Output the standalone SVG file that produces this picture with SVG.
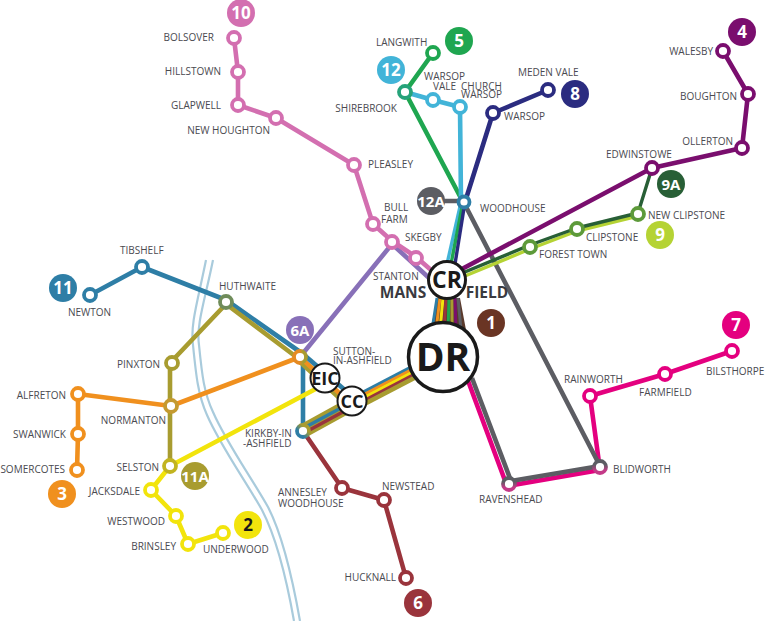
<svg xmlns="http://www.w3.org/2000/svg" width="765" height="621" viewBox="0 0 765 621">
<style>
.l{fill:none;stroke-width:4.6;stroke-linejoin:round;stroke-linecap:butt}
.w{stroke-width:3.4}
.r{fill:none;stroke:#a9cbdc;stroke-width:2.2}
.s{fill:#fff;stroke-width:3.8}
.t{font-family:"Open Sans",sans-serif;font-size:10px;fill:#4a4a50}
.te{text-anchor:end}
.b{font-family:"Open Sans",sans-serif;font-size:17px;font-weight:700;fill:#fff;text-anchor:middle}
.c{font-size:15px}
.h{font-family:"Open Sans",sans-serif;font-weight:700;fill:#1a1a1a;text-anchor:middle}
.m{font-family:"Open Sans",sans-serif;font-size:15.5px;font-weight:700;fill:#3a3a40;text-anchor:middle}
.hub{fill:#fff;stroke:#1a1a1a}
</style>
<defs>
<linearGradient id="gs" x1="0" x2="1" y1="0" y2="0"><stop offset="0.45" stop-color="#e58a22"/><stop offset="0.75" stop-color="#a89c30"/></linearGradient>
<linearGradient id="gk" x1="0" x2="1" y1="1" y2="0"><stop offset="0.3" stop-color="#2e7ea6"/><stop offset="0.7" stop-color="#a89c30"/></linearGradient>
<linearGradient id="gb" x1="0" x2="0" y1="0" y2="1"><stop offset="0.3" stop-color="#5c5d63"/><stop offset="0.8" stop-color="#c43a88"/></linearGradient>
</defs>
<g id="river">
<path class="r" d="M206 260C198 300 190 325 193 345C196 375 198 395 207 415C220 445 245 480 262 510C275 535 285 570 294 621"/>
<path class="r" d="M213 260C205 300 196 325 199 345C202 375 204 393 213 412C226 442 251 477 268 507C281 532 291 570 300 621"/>
</g>
<g id="connectors">
<path class="l" stroke="#e4007f" d="M732 351L665 374L590 396L600 470L507 486L467 378"/>
<path class="l" stroke="#5c5d63" d="M431 201H463L600 466L511 481L472 378"/>
<path class="l" stroke="#8870b8" d="M300 357L392 244L440 288"/>
<path class="l" stroke="#d36fb0" d="M234 38L238 72L238 105L276 118L354 165L373 224L392 241L416 257L438 276"/>
<path class="l" stroke="#1fa650" d="M433 53L405 92L463 202"/>
<path class="l" stroke="#42b4d8" d="M405 92L433 100L460 107L461 202"/>
<path class="l" stroke="#2b2c80" d="M548 90L493 113L465 202"/>
<path class="l w" stroke="#42b4d8" d="M461 202L447 264"/>
<path class="l w" stroke="#1fa650" d="M463 202L451 264"/>
<path class="l w" stroke="#2b2c80" d="M465 202L455 264"/>
<path class="l" stroke="#7a0e6e" d="M723 51L748 94L742 148L652 168L460 270"/>
<path class="l w" stroke="#b5d334" d="M638 216L577 231L530 249L460 278"/>
<path class="l w" stroke="#285f36" d="M652 168L638 213L577 228L530 245L460 274"/>
<path class="l" stroke="#2e7ea6" d="M90 295L142 267L226 300L303 354L303 430"/>
<path class="l" stroke="#a89c30" d="M170 466V363L226 304L299 359"/>
<path class="l" stroke="#a89c30" d="M298 360L347 405"/>
<path class="l" stroke="#f0901e" d="M77 470L78 434L78 394L171 406L300 357"/>
<path class="l" stroke="#f0901e" d="M300 357L349 402"/>
<path class="l" stroke="#2e7ea6" d="M303 354L353 397"/>
<path class="l" stroke="#f2e40c" d="M223 533L188 544L176 516L151 490L170 466L325 384"/>
<path stroke="#a89c30" stroke-width="14" fill="none" d="M303 431L352 404"/>
<path stroke="#2e7ea6" stroke-width="3.400" fill="none" d="M303 428.500L352 402"/>
<path stroke="#9a343c" stroke-width="3.400" fill="none" d="M303 433.500L352 407"/>
<path class="l w" stroke="#2e7ea6" d="M351 398.500L420 362.500"/>
<path class="l w" stroke="#f0901e" d="M351 401.500L420 365.500"/>
<path class="l w" stroke="#f2e40c" d="M351 404.500L420 368.500"/>
<path class="l w" stroke="#9a343c" d="M351 407.500L420 371.500"/>
<path class="l" stroke="#a89c30" d="M351 411L420 375"/>
<path class="l" stroke="#9a343c" d="M303 431L342 488L384 500L406 578"/>
<path d="M438 298L460 298L466 330L430 330Z" fill="#5a3a2c"/>
<g stroke-width="3" fill="none">
<path stroke="#2e7ea6" d="M437 298L432 330"/><path stroke="#f0901e" d="M440 298L436 330"/><path stroke="#f2e40c" d="M443 298L440 330"/><path stroke="#9a343c" d="M446 298L444 330"/><path stroke="#1fa650" d="M449 298L448 330"/><path stroke="#a89c30" d="M452 298L452 330"/><path stroke="#7a0e6e" d="M455 298L456 330"/><path stroke="#5c5d63" d="M458 298L461 330"/>
</g>
</g>
<g id="n-10"><circle class="s" stroke="#d36fb0" cx="234" cy="38" r="6"/><circle class="s" stroke="#d36fb0" cx="238" cy="72" r="6"/><circle class="s" stroke="#d36fb0" cx="238" cy="105" r="6"/><circle class="s" stroke="#d36fb0" cx="276" cy="118" r="6"/><circle class="s" stroke="#d36fb0" cx="354" cy="165" r="6"/><circle class="s" stroke="#d36fb0" cx="373" cy="224" r="6"/><circle class="s" stroke="#d36fb0" cx="392" cy="242" r="6"/><circle class="s" stroke="#d36fb0" cx="416" cy="258" r="6"/>
<circle fill="#d36fb0" cx="241" cy="13" r="14"/><text class="b" x="241" y="19">10</text>
<text class="t te" x="214" y="41">BOLSOVER</text><text class="t te" x="221" y="75">HILLSTOWN</text><text class="t te" x="221" y="109">GLAPWELL</text><text class="t te" x="270" y="134">NEW HOUGHTON</text><text class="t" x="368" y="168">PLEASLEY</text><text class="t" x="384" y="211">BULL</text><text class="t" x="381" y="223">FARM</text><text class="t" x="405" y="241">SKEGBY</text><text class="t" x="373" y="280">STANTON</text></g>
<g id="n-5"><circle class="s" stroke="#1fa650" cx="433" cy="53" r="6"/><circle fill="#1fa650" cx="459" cy="41" r="14"/><text class="b" x="459" y="47">5</text><text class="t" x="376" y="46">LANGWITH</text></g>
<g id="n-12"><circle class="s" stroke="#26a37a" cx="405" cy="92" r="6"/><circle class="s" stroke="#42b4d8" cx="433" cy="100" r="6"/><circle class="s" stroke="#42b4d8" cx="460" cy="107" r="6"/><circle fill="#42b4d8" cx="391" cy="70" r="14"/><text class="b" x="391" y="76">12</text><text class="t te" x="397" y="112">SHIREBROOK</text><text class="t" x="424" y="79.500">WARSOP</text><text class="t" x="433" y="89.500">VALE</text><text class="t" x="461" y="89.500">CHURCH</text><text class="t" x="461" y="98">WARSOP</text></g>
<g id="n-8"><circle class="s" stroke="#2b2c80" cx="548" cy="90" r="6"/><circle class="s" stroke="#2b2c80" cx="493" cy="113" r="6"/><circle fill="#2b2c80" cx="575" cy="94" r="14"/><text class="b" x="575" y="100">8</text><text class="t" x="518" y="76">MEDEN VALE</text><text class="t" x="504" y="120">WARSOP</text></g>
<g id="n-12A"><circle fill="#5c5d63" cx="431" cy="201" r="14"/><text class="b c" x="431" y="207">12A</text><circle class="s" stroke="#2e7ea6" cx="464" cy="202" r="5.500"/><text class="t" x="480" y="212">WOODHOUSE</text></g>
<g id="n-4"><circle class="s" stroke="#7a0e6e" cx="723" cy="51" r="6"/><circle class="s" stroke="#7a0e6e" cx="748" cy="94" r="6"/><circle class="s" stroke="#7a0e6e" cx="742" cy="148" r="6"/><circle class="s" stroke="#7a0e6e" cx="652" cy="168" r="6"/><circle fill="#7a0e6e" cx="742" cy="32" r="14"/><text class="b" x="742" y="38">4</text><text class="t te" x="713" y="55">WALESBY</text><text class="t te" x="737" y="100">BOUGHTON</text><text class="t te" x="733" y="145">OLLERTON</text><text class="t" x="606" y="158">EDWINSTOWE</text></g>
<g id="n-9"><circle class="s" stroke="#5d9a3a" cx="638" cy="214" r="6"/><circle class="s" stroke="#5d9a3a" cx="577" cy="229" r="6"/><circle class="s" stroke="#5d9a3a" cx="530" cy="247" r="6"/><circle fill="#285f36" cx="671" cy="184" r="14"/><text class="b c" x="671" y="190">9A</text><circle fill="#b5d334" cx="660" cy="235" r="14"/><text class="b" x="660" y="241">9</text><text class="t" x="648" y="219">NEW CLIPSTONE</text><text class="t" x="586" y="241">CLIPSTONE</text><text class="t" x="539" y="258">FOREST TOWN</text></g>
<g id="n-11"><circle class="s" stroke="#2e7ea6" cx="90" cy="295" r="6"/><circle class="s" stroke="#2e7ea6" cx="142" cy="267" r="6"/><circle class="s" stroke="#6f8c5a" cx="226" cy="302" r="6"/><circle fill="#2e7ea6" cx="63" cy="288" r="14"/><text class="b" x="63" y="294">11</text><text class="t" x="68" y="316">NEWTON</text><text class="t" x="120" y="254">TIBSHELF</text><text class="t" x="219" y="290">HUTHWAITE</text></g>
<g id="n-11A"><circle class="s" stroke="#a89c30" cx="172" cy="363" r="6"/><circle class="s" stroke="#c49a30" cx="171" cy="406" r="6"/><circle class="s" stroke="#c2b420" cx="170" cy="466" r="6"/><circle fill="#a89c30" cx="195" cy="476" r="14"/><text class="b c" x="195" y="482">11A</text><text class="t te" x="160" y="368">PINXTON</text><text class="t te" x="166" y="424">NORMANTON</text><text class="t te" x="159" y="471">SELSTON</text></g>
<g id="n-3"><circle class="s" stroke="#f0901e" cx="78" cy="394" r="6"/><circle class="s" stroke="#f0901e" cx="78" cy="434" r="6"/><circle class="s" stroke="#f0901e" cx="77" cy="470" r="6"/><circle fill="#f0901e" cx="62" cy="494" r="14"/><text class="b" x="62" y="500">3</text><text class="t te" x="66" y="399">ALFRETON</text><text class="t te" x="66" y="438">SWANWICK</text><text class="t te" x="65" y="473">SOMERCOTES</text></g>
<g id="n-2"><circle class="s" stroke="#f2e40c" cx="151" cy="490" r="6"/><circle class="s" stroke="#f2e40c" cx="176" cy="516" r="6"/><circle class="s" stroke="#f2e40c" cx="188" cy="544" r="6"/><circle class="s" stroke="#f2e40c" cx="223" cy="533" r="6"/><circle fill="#f2e40c" cx="248" cy="525" r="14"/><text class="b" x="248" y="531" style="fill:#1a1a1a">2</text><text class="t te" x="140" y="495">JACKSDALE</text><text class="t te" x="165" y="525">WESTWOOD</text><text class="t te" x="176" y="550">BRINSLEY</text><text class="t" x="203" y="553">UNDERWOOD</text></g>
<g id="n-6"><circle class="s" stroke="#9a343c" cx="342" cy="488" r="6"/><circle class="s" stroke="#9a343c" cx="384" cy="500" r="6"/><circle class="s" stroke="#9a343c" cx="406" cy="578" r="6"/><circle fill="#9a343c" cx="418" cy="603" r="14"/><text class="b" x="418" y="609">6</text><text class="t" x="278" y="496">ANNESLEY</text><text class="t" x="278" y="507">WOODHOUSE</text><text class="t" x="382" y="490">NEWSTEAD</text><text class="t te" x="396" y="581">HUCKNALL</text><text class="t" x="245" y="437">KIRKBY-IN</text><text class="t" x="243" y="447">-ASHFIELD</text><circle class="s" stroke="url(#gk)" cx="303" cy="431" r="6"/></g>
<g id="n-6A"><circle class="s" stroke="url(#gs)" cx="300" cy="357" r="6"/><circle fill="#8870b8" cx="300" cy="330" r="14"/><text class="b c" x="300" y="336">6A</text><text class="t" x="333" y="354.500">SUTTON-</text><text class="t" x="333" y="364">IN-ASHFIELD</text></g>
<g id="n-7"><circle class="s" stroke="#e4007f" cx="732" cy="351" r="6"/><circle class="s" stroke="#e4007f" cx="665" cy="374" r="6"/><circle class="s" stroke="#e4007f" cx="590" cy="396" r="6"/><circle class="s" stroke="url(#gb)" cx="600" cy="467" r="6"/><circle class="s" stroke="url(#gb)" cx="509" cy="484" r="6"/><circle fill="#e4007f" cx="736" cy="325" r="14"/><text class="b" x="736" y="331">7</text><text class="t" x="706" y="375">BILSTHORPE</text><text class="t" x="639" y="396">FARMFIELD</text><text class="t" x="564" y="383">RAINWORTH</text><text class="t" x="613" y="473">BLIDWORTH</text><text class="t" x="479" y="503">RAVENSHEAD</text></g>
<g id="n-1"><circle fill="#6a3524" cx="491" cy="323" r="14"/><text class="b" x="491" y="329">1</text></g>
<g id="n-CR"><circle class="hub" cx="447" cy="280" r="18.500" stroke-width="3"/><text class="h" x="447" y="288" font-size="23">CR</text><text class="m" x="403" y="298">MANS</text><text class="m" x="487" y="298">FIELD</text></g>
<g id="n-DR"><circle class="hub" cx="443" cy="357" r="34.500" stroke-width="3.500"/><text class="h" x="443" y="371" font-size="39">DR</text></g>
<g id="n-EIC"><circle class="hub" cx="325" cy="378" r="14.500" stroke-width="2"/><text class="h" x="325" y="384.500" font-size="18">EIC</text></g>
<g id="n-CC"><circle class="hub" cx="352" cy="401" r="14.500" stroke-width="2"/><text class="h" x="352" y="407.500" font-size="18">CC</text></g>
</svg>
